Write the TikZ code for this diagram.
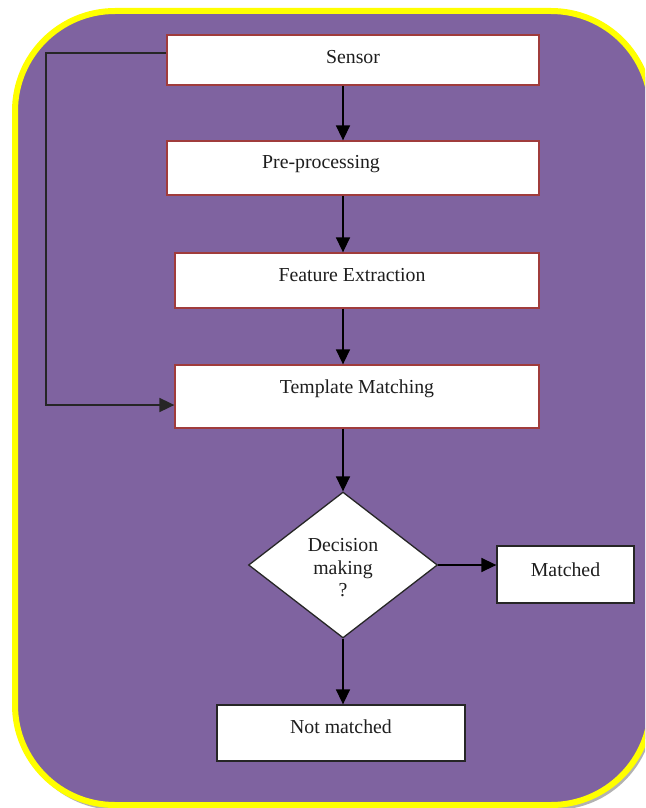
\documentclass[tikz,border=0pt]{standalone}
\usepackage{fontspec}
\setmainfont{Liberation Serif}
\usetikzlibrary{shapes.geometric,arrows.meta}

\definecolor{panelfill}{RGB}{127,99,160}
\definecolor{panelrim}{RGB}{255,255,0}
\definecolor{boxrim}{RGB}{160,60,60}
\definecolor{inktext}{RGB}{30,30,30}

\tikzset{
  stagebox/.style={draw=boxrim, line width=1.3pt, fill=white, rectangle, inner sep=0pt},
  resultbox/.style={draw=black!85, line width=1.3pt, fill=white, rectangle, inner sep=0pt},
  choice/.style={draw=black!85, line width=1.3pt, fill=white, diamond, inner sep=0pt},
  boxtext/.style={font=\fontsize{19.8}{22.5}\selectfont, text=inktext, align=center},
  flow/.style={line width=1.5pt, draw=black, -{Triangle[length=15pt,width=14pt]}},
}

\begin{document}
\begin{tikzpicture}[x=1pt,y=-1pt]
  \useasboundingbox (0,0) rectangle (645,808);
  \clip (0,0) rectangle (645,808);
  \fill[white] (0,0) rectangle (645,808);

  % rounded panel with a soft drop shadow
  \fill[black!30, rounded corners=100pt] (17,14) rectangle (654,810);
  \filldraw[fill=panelfill, draw=panelrim, line width=6pt, rounded corners=100pt]
    (15,11) rectangle (651,805);

  % processing stages
  \node[stagebox, minimum width=372pt, minimum height=50pt,
        label={[boxtext, yshift=3pt]center:Sensor}] (sensor) at (353,60) {};
  \node[stagebox, minimum width=372pt, minimum height=54pt,
        label={[boxtext, xshift=-32pt, yshift=4pt]center:Pre-processing}] (prep) at (353,168) {};
  \node[stagebox, minimum width=364pt, minimum height=55pt,
        label={[boxtext, xshift=-5pt, yshift=5pt]center:Feature Extraction}] (feat) at (357,280.5) {};
  \node[stagebox, minimum width=364pt, minimum height=63pt,
        label={[boxtext, yshift=8pt]center:Template Matching}] (tmpl) at (357,396.5) {};

  % decision and outcomes
  \node[choice, minimum width=189pt, minimum height=146pt,
        label={[boxtext, yshift=-3pt]center:Decision\\making\\?}] (dec) at (343,565) {};
  \node[resultbox, minimum width=137pt, minimum height=57pt,
        label={[boxtext, yshift=5pt]center:Matched}] (match) at (565.5,574.5) {};
  \node[resultbox, minimum width=248pt, minimum height=56pt,
        label={[boxtext, yshift=6pt]center:Not matched}] (nomatch) at (341,733) {};

  % main flow down the centre line
  \draw[flow] (sensor.south -| dec.north) -- (prep.north -| dec.north);
  \draw[flow] (prep.south -| dec.north) -- (feat.north -| dec.north);
  \draw[flow] (feat.south -| dec.north) -- (tmpl.north -| dec.north);
  \draw[flow] (tmpl.south -| dec.north) -- (dec.north);
  \draw[flow] (dec.south) -- (nomatch.north -| dec.south);
  \draw[flow] (dec.east) -- (dec.east -| match.west);

  % bypass from the sensor straight into template matching
  \coordinate (bendtop) at (46,53);
  \coordinate (bendlow) at (46,405);
  \draw[flow, draw=black!85, line width=1.8pt]
    (sensor.west |- bendtop) -- (bendtop) -- (bendlow) -- (tmpl.west |- bendlow);
\end{tikzpicture}
\end{document}
